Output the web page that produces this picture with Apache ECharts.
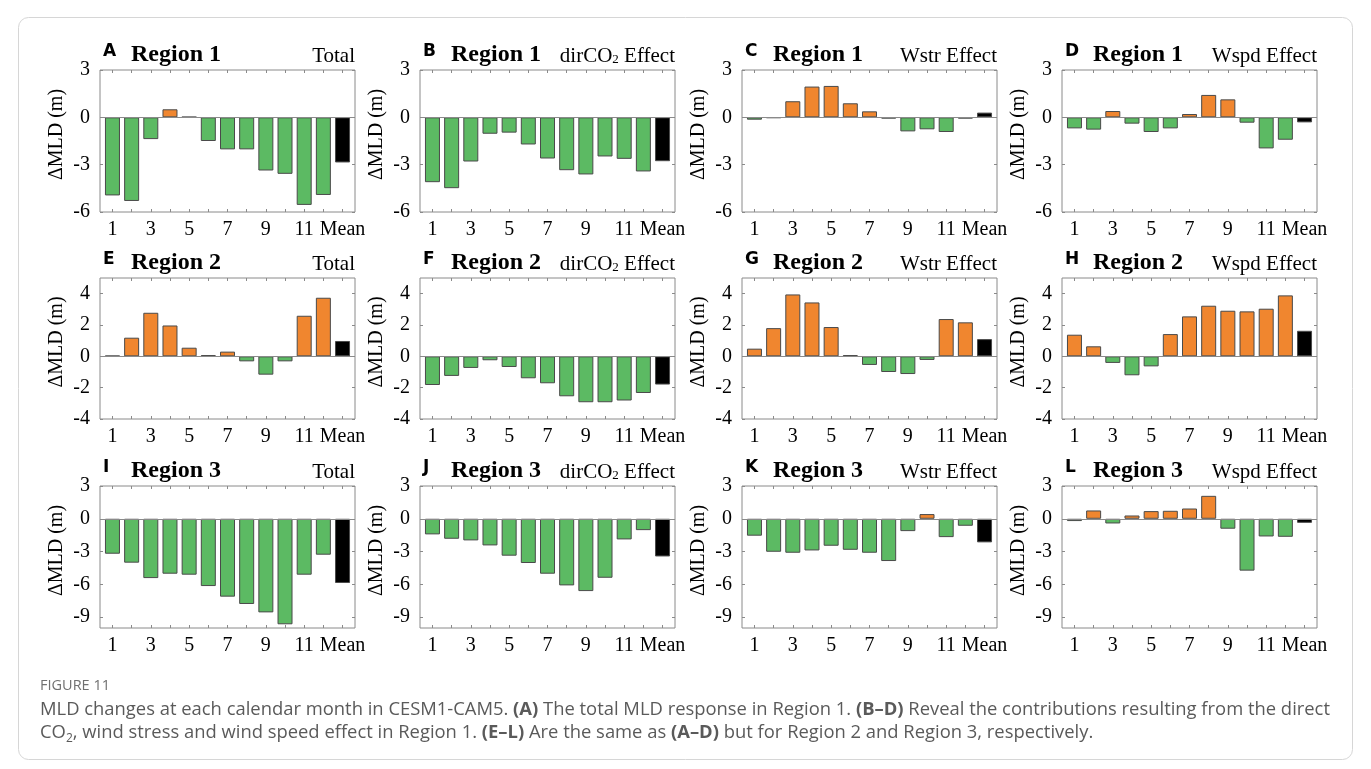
<!DOCTYPE html>
<html>
<head>
<meta charset="utf-8">
<title>MLD changes at each calendar month in CESM1-CAM5</title>
<script src="https://cdn.jsdelivr.net/npm/echarts@6/dist/echarts.min.js"></script>
<style>
  html, body { margin: 0; padding: 0; background: #ffffff; }
  #chart { width: 1371px; height: 769px; }
</style>
</head>
<body>
<div id="chart"></div>
<script>
// Category labels: calendar months 1-12 plus the annual mean
const monthLabels = ['1', '2', '3', '4', '5', '6', '7', '8', '9', '10', '11', '12', 'Mean'];

// ΔMLD (m), months 1-12 followed by the mean
const r1Total  = [-4.95, -5.30, -1.38, 0.51, 0.03, -1.50, -2.03, -2.03, -3.37, -3.58, -5.55, -4.92, -2.86];
const r1DirCO2 = [-4.11, -4.49, -2.80, -1.04, -0.97, -1.72, -2.61, -3.35, -3.62, -2.48, -2.63, -3.43, -2.78];
const r1Wstr   = [-0.15, -0.04, 1.02, 1.95, 1.99, 0.89, 0.38, -0.08, -0.89, -0.76, -0.93, -0.08, 0.30];
const r1Wspd   = [-0.70, -0.78, 0.40, -0.40, -0.93, -0.70, 0.21, 1.42, 1.14, -0.34, -1.97, -1.42, -0.32];

const r2Total  = [0.04, 1.19, 2.78, 1.97, 0.55, 0.08, 0.30, -0.32, -1.17, -0.32, 2.59, 3.74, 0.98];
const r2DirCO2 = [-1.83, -1.25, -0.74, -0.25, -0.68, -1.40, -1.72, -2.55, -2.93, -2.93, -2.82, -2.34, -1.80];
const r2Wstr   = [0.49, 1.80, 3.95, 3.44, 1.87, 0.08, -0.55, -1.00, -1.13, -0.23, 2.38, 2.17, 1.10];
const r2Wspd   = [1.38, 0.64, -0.42, -1.21, -0.64, 1.42, 2.55, 3.23, 2.91, 2.87, 3.04, 3.89, 1.63];

const r3Total  = [-3.20, -4.02, -5.43, -5.03, -5.12, -6.16, -7.13, -7.80, -8.57, -9.66, -5.12, -3.29, -5.88];
const r3DirCO2 = [-1.43, -1.83, -1.98, -2.44, -3.38, -4.05, -5.03, -6.10, -6.62, -5.40, -1.89, -1.04, -3.45];
const r3Wstr   = [-1.55, -3.02, -3.11, -2.90, -2.47, -2.84, -3.11, -3.87, -1.13, 0.43, -1.68, -0.64, -2.16];
const r3Wspd   = [-0.21, 0.76, -0.43, 0.30, 0.70, 0.73, 0.94, 2.10, -0.91, -4.75, -1.62, -1.65, -0.37];

// Y-axis tick labels for each row of panels
const yTicksRow1 = [3, 0, -3, -6];
const yTicksRow2 = [4, 2, 0, -2, -4];
const yTicksRow3 = [3, 0, -3, -6, -9];

const panels = [
  { letter: 'A', region: 'Region 1', effect: 'total', values: r1Total,  row: 0, col: 0 },
  { letter: 'B', region: 'Region 1', effect: 'co2',   values: r1DirCO2, row: 0, col: 1 },
  { letter: 'C', region: 'Region 1', effect: 'wstr',  values: r1Wstr,   row: 0, col: 2 },
  { letter: 'D', region: 'Region 1', effect: 'wspd',  values: r1Wspd,   row: 0, col: 3 },
  { letter: 'E', region: 'Region 2', effect: 'total', values: r2Total,  row: 1, col: 0 },
  { letter: 'F', region: 'Region 2', effect: 'co2',   values: r2DirCO2, row: 1, col: 1 },
  { letter: 'G', region: 'Region 2', effect: 'wstr',  values: r2Wstr,   row: 1, col: 2 },
  { letter: 'H', region: 'Region 2', effect: 'wspd',  values: r2Wspd,   row: 1, col: 3 },
  { letter: 'I', region: 'Region 3', effect: 'total', values: r3Total,  row: 2, col: 0 },
  { letter: 'J', region: 'Region 3', effect: 'co2',   values: r3DirCO2, row: 2, col: 1 },
  { letter: 'K', region: 'Region 3', effect: 'wstr',  values: r3Wstr,   row: 2, col: 2 },
  { letter: 'L', region: 'Region 3', effect: 'wspd',  values: r3Wspd,   row: 2, col: 3 }
];

// Per-row value ranges
const rowRanges = [
  { min: -6,  max: 3, ticks: yTicksRow1 },
  { min: -4,  max: 5, ticks: yTicksRow2 },
  { min: -10, max: 3, ticks: yTicksRow3 }
];

// Layout of the 4 x 3 panel grid (pixels)
const colLeft = [100, 420, 742, 1062];
const rowTop = [70, 278, 486];
const plotW = 255;
const plotH = [142, 141, 142];
const X_MIN = 0.35, X_MAX = 13.65;

const GREEN = '#5cba63';
const ORANGE = '#f0862f';
const MEAN = '#000000';
const FRAME = '#8a8a8a';
const EDGE = '#4a4a4a';
const SERIF = "'Liberation Serif', 'Times New Roman', serif";
const SANS = "'DejaVu Sans', 'Liberation Sans', sans-serif";
const CAPTION_FONT = "'Open Sans', 'Noto Sans', sans-serif";

const positions = monthLabels.map((_, k) => k + 1);
const labelPositions = positions.filter((_, k) => k % 2 === 0);

const grids = [], xAxes = [], yAxes = [], series = [], graphics = [];

function effectText(kind) {
  if (kind === 'total') return { text: 'Total' };
  if (kind === 'wstr') return { text: 'Wstr Effect' };
  if (kind === 'wspd') return { text: 'Wspd Effect' };
  return {
    text: '{t|dirCO}{s|2}{t| Effect}',
    rich: {
      t: { fontFamily: SERIF, fontSize: 21, fill: '#000', verticalAlign: 'bottom' },
      s: { fontFamily: SERIF, fontSize: 13, fill: '#000', verticalAlign: 'bottom' }
    }
  };
}

panels.forEach((p, i) => {
  const left = colLeft[p.col];
  const top = rowTop[p.row];
  const h = plotH[p.row];
  const rng = rowRanges[p.row];

  grids.push({
    left: left, top: top, width: plotW, height: h,
    show: true, borderColor: FRAME, borderWidth: 1, backgroundColor: 'transparent'
  });

  const tick = { show: true, inside: true, length: 3, customValues: positions, lineStyle: { color: FRAME, width: 1 } };
  xAxes.push({
    gridIndex: i, type: 'value', position: 'bottom', min: X_MIN, max: X_MAX,
    axisLine: { show: false, onZero: false }, splitLine: { show: false },
    axisTick: tick,
    axisLabel: {
      customValues: labelPositions,
      formatter: v => monthLabels[Math.round(v) - 1],
      margin: 8, fontFamily: SERIF, fontSize: 20, color: '#000'
    }
  });
  xAxes.push({
    gridIndex: i, type: 'value', position: 'top', min: X_MIN, max: X_MAX,
    axisLine: { show: false, onZero: false }, splitLine: { show: false },
    axisTick: tick, axisLabel: { show: false }
  });

  const yTick = { show: true, inside: true, length: 3, customValues: rng.ticks, lineStyle: { color: FRAME, width: 1 } };
  yAxes.push({
    gridIndex: i, type: 'value', position: 'left', min: rng.min, max: rng.max,
    axisLine: { show: false, onZero: false }, splitLine: { show: false },
    axisTick: yTick,
    axisLabel: { customValues: rng.ticks, margin: 10, fontFamily: SERIF, fontSize: 20, color: '#000' },
    name: 'ΔMLD (m)', nameLocation: 'middle', nameRotate: 90, nameGap: 33,
    nameTextStyle: { fontFamily: SERIF, fontSize: 20, color: '#000', padding: [0, 0, 0, 13] }
  });
  yAxes.push({
    gridIndex: i, type: 'value', position: 'right', min: rng.min, max: rng.max,
    axisLine: { show: false, onZero: false }, splitLine: { show: false },
    axisTick: yTick, axisLabel: { show: false }
  });

  series.push({
    type: 'bar',
    xAxisIndex: 2 * i,
    yAxisIndex: 2 * i,
    barWidth: 15,
    data: p.values.map((v, k) => [positions[k], v]),
    itemStyle: {
      color: prm => prm.dataIndex === monthLabels.length - 1 ? MEAN : (prm.value[1] >= 0 ? ORANGE : GREEN),
      borderColor: EDGE,
      borderWidth: 1
    },
    emphasis: { disabled: true },
    markLine: {
      silent: true, symbol: 'none', animation: false,
      label: { show: false },
      lineStyle: { color: FRAME, width: 1, type: 'solid' },
      data: [{ yAxis: 0 }]
    }
  });

  // Panel headings: letter, region and effect name
  graphics.push({
    type: 'text', x: left + 3, y: top - 18, silent: true,
    style: { text: p.letter, fontFamily: SANS, fontWeight: 'bold', fontSize: 17, fill: '#000', align: 'left', verticalAlign: 'middle' }
  });
  graphics.push({
    type: 'text', x: left + 31, y: top - 15, silent: true,
    style: { text: p.region, fontFamily: SERIF, fontWeight: 'bold', fontSize: 24, fill: '#000', align: 'left', verticalAlign: 'middle' }
  });
  const eff = effectText(p.effect);
  graphics.push({
    type: 'text', x: left + plotW, y: top - 14, silent: true,
    style: Object.assign({ fontFamily: SERIF, fontSize: 21, fill: '#000', align: 'right', verticalAlign: 'middle' }, eff)
  });
});

// Figure caption
const capRich = {
  n: { fontFamily: CAPTION_FONT, fontSize: 18.4, fill: '#5a5a5a', verticalAlign: 'bottom' },
  b: { fontFamily: CAPTION_FONT, fontSize: 18.4, fontWeight: 'bold', fill: '#5a5a5a', verticalAlign: 'bottom' },
  sub: { fontFamily: CAPTION_FONT, fontSize: 12, fill: '#5a5a5a', verticalAlign: 'bottom', padding: [0, 0, -3, 0] }
};
graphics.push({
  type: 'text', x: 40, y: 686, silent: true,
  style: { text: 'FIGURE 11', fontFamily: CAPTION_FONT, fontSize: 14.5, fill: '#707070', align: 'left', verticalAlign: 'middle' }
});
graphics.push({
  type: 'text', x: 40, y: 710, silent: true,
  style: {
    text: '{n|MLD changes at each calendar month in CESM1-CAM5. }{b|(A)}{n| The total MLD response in Region 1. }{b|(B–D)}{n| Reveal the contributions resulting from the direct}',
    rich: capRich, align: 'left', verticalAlign: 'middle'
  }
});
graphics.push({
  type: 'text', x: 40, y: 733, silent: true,
  style: {
    text: '{n|CO}{sub|2}{n|, wind stress and wind speed effect in Region 1. }{b|(E–L)}{n| Are the same as }{b|(A–D)}{n| but for Region 2 and Region 3, respectively.}',
    rich: capRich, align: 'left', verticalAlign: 'middle'
  }
});
// Outer frame around figure and caption
graphics.push({
  type: 'rect', silent: true, z: -10,
  shape: { x: 18.5, y: 17.5, width: 1334, height: 742, r: 10 },
  style: { fill: 'none', stroke: '#d6d6d6', lineWidth: 1 }
});

const chart = echarts.init(document.getElementById('chart'), null, { renderer: 'canvas' });
chart.setOption({
  backgroundColor: '#ffffff',
  animation: false,
  grid: grids,
  xAxis: xAxes,
  yAxis: yAxes,
  series: series,
  graphic: graphics
});
</script>
</body>
</html>
